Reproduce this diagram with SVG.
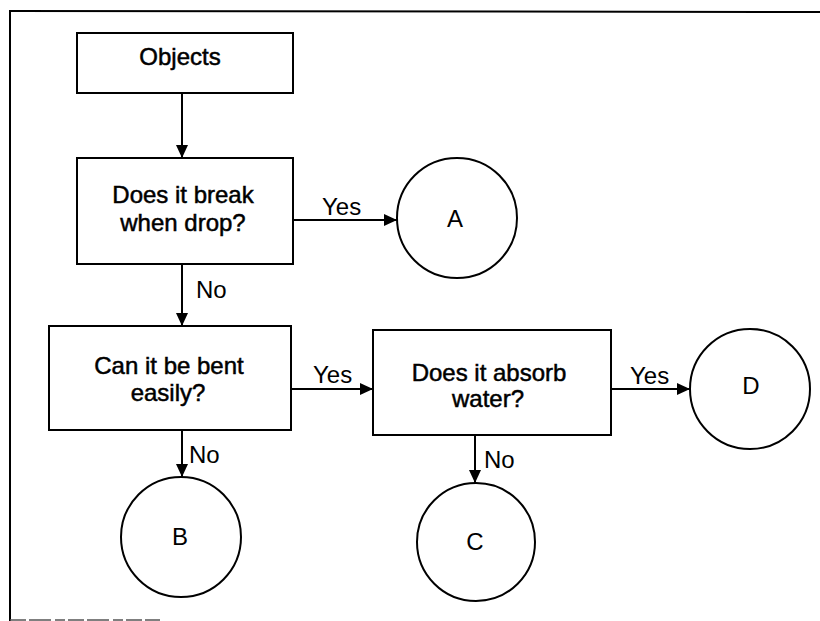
<svg xmlns="http://www.w3.org/2000/svg" width="820" height="621" viewBox="0 0 820 621">
<style>
.box{fill:#fff;stroke:#000;stroke-width:2}
.circ{fill:#fff;stroke:#000;stroke-width:2}
.conn{stroke:#000;stroke-width:2;fill:none}
.t{font-family:"Liberation Sans",Arial,sans-serif;font-size:24px;fill:#000;text-anchor:middle}
.q{stroke:#000;stroke-width:0.5}
.lbl{font-family:"Liberation Sans",Arial,sans-serif;font-size:24px;fill:#000}
</style>
<defs>
<marker id="arr" markerUnits="userSpaceOnUse" markerWidth="14" markerHeight="12" refX="13" refY="6" orient="auto">
<path d="M0,0 L13,6 L0,12 Z" fill="#000"/>
</marker>
</defs>
<rect width="820" height="621" fill="#fff"/>
<g id="frame">
<line x1="10" y1="11" x2="820" y2="12" stroke="#000" stroke-width="2"/>
<line x1="10" y1="10" x2="10" y2="621" stroke="#000" stroke-width="2"/>
<line x1="10" y1="620" x2="160" y2="620" stroke="#555" stroke-width="1.5" stroke-dasharray="16,3,22,4,10,3"/>
</g>
<g id="connectors">
<line class="conn" x1="182" y1="93" x2="182" y2="158" marker-end="url(#arr)"/>
<line class="conn" x1="293" y1="220" x2="397" y2="220" marker-end="url(#arr)"/>
<line class="conn" x1="182" y1="264" x2="182" y2="326" marker-end="url(#arr)"/>
<line class="conn" x1="291" y1="389" x2="373" y2="389" marker-end="url(#arr)"/>
<line class="conn" x1="182" y1="430" x2="182" y2="477" marker-end="url(#arr)"/>
<line class="conn" x1="611" y1="389" x2="690" y2="389" marker-end="url(#arr)"/>
<line class="conn" x1="475" y1="435" x2="475" y2="483" marker-end="url(#arr)"/>
<text class="lbl" x="322" y="215">Yes</text>
<text class="lbl" x="196" y="298">No</text>
<text class="lbl" x="313" y="383">Yes</text>
<text class="lbl" x="630" y="384">Yes</text>
<text class="lbl" x="189" y="463">No</text>
<text class="lbl" x="484" y="468">No</text>
</g>
<g id="objects">
<rect class="box" x="77" y="33" width="216" height="60"/>
<text class="t q" x="180" y="65">Objects</text>
</g>
<g id="break">
<rect class="box" x="77" y="158" width="216" height="106"/>
<text class="t q" x="183" y="203">Does it break</text>
<text class="t q" x="183" y="231">when drop?</text>
</g>
<g id="bent">
<rect class="box" x="49" y="326" width="242" height="104"/>
<text class="t q" x="169" y="374">Can it be bent</text>
<text class="t q" x="168" y="401">easily?</text>
</g>
<g id="absorb">
<rect class="box" x="373" y="330" width="238" height="105"/>
<text class="t q" x="489" y="381">Does it absorb</text>
<text class="t q" x="488" y="407">water?</text>
</g>
<g id="A">
<circle class="circ" cx="457" cy="218" r="60"/>
<text class="t" x="455" y="227">A</text>
</g>
<g id="B">
<circle class="circ" cx="181" cy="537" r="60"/>
<text class="t" x="180" y="545">B</text>
</g>
<g id="C">
<circle class="circ" cx="476" cy="542" r="59"/>
<text class="t" x="475" y="550">C</text>
</g>
<g id="D">
<circle class="circ" cx="750" cy="389" r="60"/>
<text class="t" x="751" y="394">D</text>
</g>
</svg>
